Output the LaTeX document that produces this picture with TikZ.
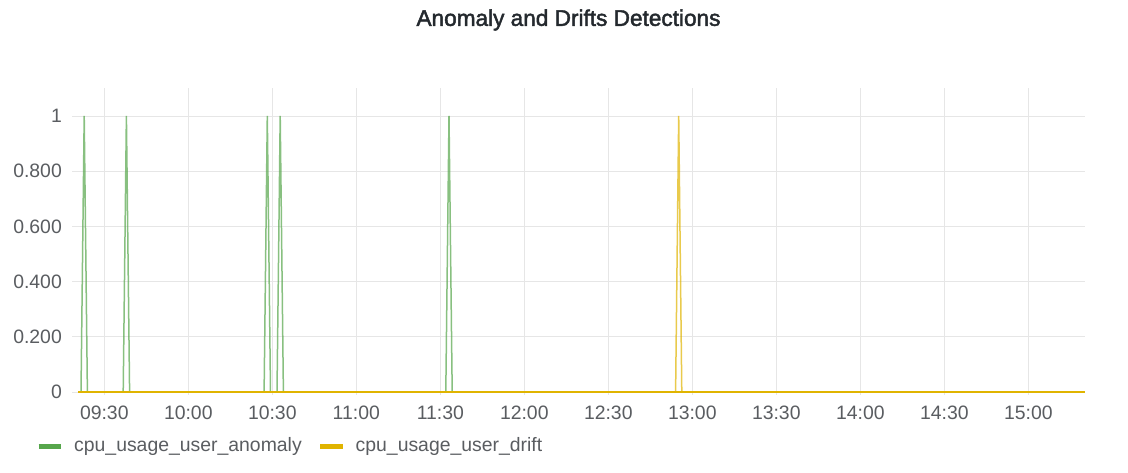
\documentclass[tikz,border=0pt]{standalone}
\usepackage{fontspec}
\setmainfont{Liberation Sans}
\newfontfamily\titlefont[FakeBold=2.0]{Liberation Sans}
\definecolor{gridgray}{HTML}{E6E6E6}
\definecolor{ticktext}{HTML}{5A5D61}
\definecolor{titletext}{HTML}{24292E}
\definecolor{anomgreen}{HTML}{56A64B}
\definecolor{driftyellow}{HTML}{E0B400}
\tikzset{
  gridline/.style={draw=gridgray, line width=0.9pt},
  ticklabel/.style={text=ticktext, font=\fontsize{19.4}{22}\selectfont, inner sep=0pt},
  legendlabel/.style={text=ticktext, font=\fontsize{19.4}{22}\selectfont, inner sep=0pt, anchor=west},
  spikeline/.style={line width=1.5pt, line join=miter, draw opacity=0.7},
  legendbar/.style={line width=5pt},
}
\begin{document}
\begin{tikzpicture}[x=1pt, y=-1pt]
  \useasboundingbox[fill=white] (0,0) rectangle (1128,472);

  % title
  \node[text=titletext, font=\titlefont\fontsize{22.6}{26}\selectfont, inner sep=0pt] (title) at (568.5,20) {Anomaly and Drifts Detections};

  % horizontal grid lines and value labels (value v sits at y = 392 - 276 v)
  \foreach \v/\lab [count=\i] in {0/0, 0.2/0.200, 0.4/0.400, 0.6/0.600, 0.8/0.800, 1/1} {
    \draw[gridline] (72,{392-276*\v}) -- (1085,{392-276*\v});
    \node[ticklabel, anchor=east] (ylab\i) at (62,{392-276*\v}) {\lab};
  }

  % vertical grid lines and time labels, one every 30 minutes
  \foreach \t [count=\k from 0] in {09:30,10:00,10:30,11:00,11:30,12:00,12:30,13:00,13:30,14:00,14:30,15:00} {
    \draw[gridline] ({104.3+84*\k},88) -- ({104.3+84*\k},395);
    \node[ticklabel] (xlab\k) at ({104.3+84*\k},413) {\t};
  }

  % anomaly series: zero baseline with spikes to 1
  \foreach \s in {84.2, 126.4, 267.3, 280.2, 449} {
    \draw[spikeline, anomgreen] ({\s-3.2},392) -- (\s,116) -- ({\s+3.2},392);
  }
  \draw[line width=1.3pt, anomgreen] (78,392) -- (1085,392);

  % drift series: zero baseline with one spike to 1
  \draw[line width=1.5pt, driftyellow] (78,392) -- (1085,392);
  \draw[spikeline, driftyellow] (675.6,392) -- (678.7,116) -- (681.8,392);

  % legend
  \draw[legendbar, anomgreen] (38.5,446) -- (60.5,446);
  \node[legendlabel] (leg1) at (74,446) {cpu\_usage\_user\_anomaly};
  \draw[legendbar, driftyellow] (320,446) -- (343,446);
  \node[legendlabel] (leg2) at (355.5,446) {cpu\_usage\_user\_drift};
\end{tikzpicture}
\end{document}
